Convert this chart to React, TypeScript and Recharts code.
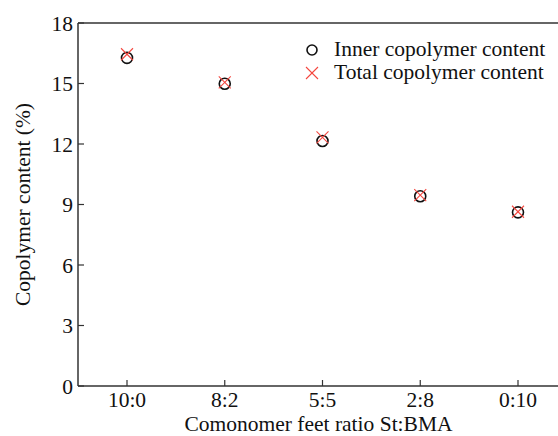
import {
  ComposedChart,
  Legend,
  Line,
  ReferenceLine,
  XAxis,
  YAxis,
} from "recharts";

const ratios = ["10:0", "8:2", "5:5", "2:8", "0:10"];
const innerContent = [16.27, 14.99, 12.15, 9.41, 8.61];
const totalContent = [16.45, 15.06, 12.33, 9.46, 8.64];
const yTicks = [0, 3, 6, 9, 12, 15, 18];

const data = ratios.map((ratio, i) => ({
  ratio,
  inner: innerContent[i],
  total: totalContent[i],
}));

const FONT = '"Liberation Serif", "Times New Roman", serif';
const FS = 21.5;
const AXIS = "#333";
const RED = "#f4473f";

function CircleDot(props: { cx?: number; cy?: number; index?: number }) {
  const { cx, cy, index } = props;
  if (cx == null || cy == null) return null;
  return (
    <circle key={`c-${index}`} cx={cx} cy={cy} r={5.5} fill="none" stroke="#111" strokeWidth={1.6} />
  );
}

function CrossDot(props: { cx?: number; cy?: number; index?: number }) {
  const { cx, cy, index } = props;
  if (cx == null || cy == null) return null;
  const s = 6;
  return (
    <g key={`x-${index}`}>
      <line x1={cx - s} y1={cy - s} x2={cx + s} y2={cy + s} stroke={RED} strokeWidth={1.1} />
      <line x1={cx - s} y1={cy + s} x2={cx + s} y2={cy - s} stroke={RED} strokeWidth={1.1} />
    </g>
  );
}

function YTick(props: any) {
  const { x, y, payload } = props;
  return (
    <g>
      <line x1={x + 5} y1={y} x2={x + 11} y2={y} stroke={AXIS} strokeWidth={1.2} />
      <text x={x} y={y} dy="0.355em" textAnchor="end" fill="#111" fontSize={FS} fontFamily={FONT}>
        {payload.value}
      </text>
    </g>
  );
}

function XTick(props: any) {
  const { x, y, payload } = props;
  return (
    <g>
      <line x1={x} y1={y - 6} x2={x} y2={y - 12} stroke={AXIS} strokeWidth={1.2} />
      <text x={x} y={y} dy="0.71em" textAnchor="middle" fill="#111" fontSize={FS} fontFamily={FONT}>
        {payload.value}
      </text>
    </g>
  );
}

function LegendBox() {
  const rows = [
    { label: "Inner copolymer content", icon: "circle" },
    { label: "Total copolymer content", icon: "cross" },
  ];
  return (
    <div style={{ fontFamily: FONT, fontSize: FS, color: "#111" }}>
      {rows.map((r) => (
        <div key={r.label} style={{ display: "flex", alignItems: "center", height: 23 }}>
          <svg width={18} height={18} style={{ marginRight: 13 }}>
            {r.icon === "circle" ? (
              <circle cx={9} cy={9} r={5} fill="none" stroke="#111" strokeWidth={1.6} />
            ) : (
              <g stroke={RED} strokeWidth={1.1}>
                <line x1={3} y1={3} x2={15} y2={15} />
                <line x1={3} y1={15} x2={15} y2={3} />
              </g>
            )}
          </svg>
          <span>{r.label}</span>
        </div>
      ))}
    </div>
  );
}

export default function App() {
  return (
    <div
      style={{
        position: "fixed",
        left: 0,
        top: 0,
        width: 558,
        height: 436,
        overflow: "hidden",
        background: "#fff",
      }}
    >
      <ComposedChart
        width={580}
        height={436}
        data={data}
        margin={{ top: 23, right: 13, bottom: 0, left: 0 }}
      >
        <XAxis
          dataKey="ratio"
          type="category"
          height={50}
          padding={{ left: 49, right: 49 }}
          axisLine={{ stroke: AXIS, strokeWidth: 1.5 }}
          tickLine={false}
          tickSize={0}
          tickMargin={6}
          tick={<XTick />}
          label={{
            value: "Comonomer feet ratio St:BMA",
            position: "insideBottom",
            offset: 5,
            dx: -4,
            fill: "#111",
            fontSize: FS,
            fontFamily: FONT,
          }}
        />
        <YAxis
          type="number"
          domain={[0, 18]}
          ticks={yTicks}
          width={78}
          axisLine={{ stroke: AXIS, strokeWidth: 1.5 }}
          tickLine={false}
          tickSize={0}
          tickMargin={5}
          tick={<YTick />}
          label={{
            value: "Copolymer content (%)",
            angle: -90,
            position: "center",
            dx: -17,
            fill: "#111",
            fontSize: FS,
            fontFamily: FONT,
          }}
        />
        <ReferenceLine y={18} stroke={AXIS} strokeWidth={1.5} />
        <Legend
          layout="vertical"
          align="center"
          verticalAlign="middle"
          wrapperStyle={{ top: 38, left: 303, width: 255 }}
          content={() => <LegendBox />}
        />
        <Line
          dataKey="inner"
          stroke="none"
          dot={<CircleDot />}
          activeDot={false}
          isAnimationActive={false}
        />
        <Line
          dataKey="total"
          stroke="none"
          dot={<CrossDot />}
          activeDot={false}
          isAnimationActive={false}
        />
      </ComposedChart>
    </div>
  );
}
